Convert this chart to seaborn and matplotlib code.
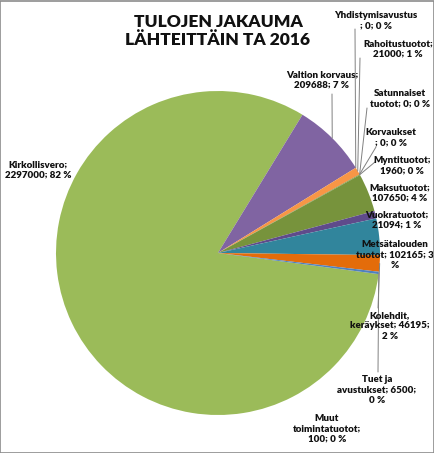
import textwrap
import matplotlib
matplotlib.use("Agg")
import matplotlib.pyplot as plt
import seaborn as sns
import numpy as np

# data (clockwise from Kirkollisvero)
categories = ["Kirkollisvero", "Valtion korvaus", "Yhdistymisavustus ", "Rahoitustuotot",
              "Satunnaiset tuotot", "Korvaukset ", "Myntituotot", "Maksutuotot",
              "Vuokratuotot", "Metsätalouden tuotot", "Kolehdit, keräykset",
              "Tuet ja avustukset", "Muut toimintatuotot"]
values = [2297000, 209688, 0, 21000, 0, 0, 1960, 107650, 21094, 102165, 46195, 6500, 100]
percents = [82, 7, 0, 1, 0, 0, 0, 4, 1, 3, 2, 0, 0]
title = "TULOJEN JAKAUMA\nLÄHTEITTÄIN TA 2016"

colors = ["#9BBB59", "#8064A2", "#4BACC6", "#F79646", "#4F81BD", "#C0504D", "#77933C",
          "#77933C", "#5F4B8B", "#31859C", "#E46C0A", "#4F81BD", "#C0504D"]

# layout (pixels, y down): label centre, wrap width, leader-line anchor (or None)
label_pos = [(38, 170), (322, 80), (376, 21), (398, 49), (400, 99), (391, 138),
             (402, 166), (400, 193), (397, 220), (395, 255), (390, 326), (377, 390),
             (327, 429)]
wrap_w = [15, 16, 17, 15, 14, 11, 12, 12, 13, 17, 17, 17, 15]
leader = [None, (332, 94), (355, 29), (360, 58), (367, 108), (376, 147), (375, 162),
          None, None, None, (378, 308), (378, 372), None]

W, H = 435, 453
cx, cy, r = 218, 253, 162

sns.set_theme(style="white")
plt.rcParams["font.family"] = ["Lato", "DejaVu Sans"]

fig = plt.figure(figsize=(W / 100, H / 100), dpi=100)
ax = fig.add_axes([0, 0, 1, 1])

pal = sns.color_palette(colors)
wedges, _ = ax.pie(values, colors=pal, startangle=-7.5, counterclock=False,
                   center=(cx, H - cy), radius=r, frame=True,
                   wedgeprops=dict(linewidth=0))
ax.set_xlim(0, W)
ax.set_ylim(0, H)
ax.set_aspect("equal")
ax.axis("off")

for i, w in enumerate(wedges):
    txt = textwrap.fill(f"{categories[i]}; {values[i]}; {percents[i]} %", wrap_w[i])
    lx, ly = label_pos[i]
    ax.text(lx, H - ly, txt, ha="center", va="center", fontsize=7,
            fontweight="heavy", color="#111111", linespacing=1.2)
    if leader[i] is not None:
        mid = np.deg2rad((w.theta1 + w.theta2) / 2)
        ex, ey = cx + r * np.cos(mid), (H - cy) + r * np.sin(mid)
        ax_, ay_ = leader[i]
        ax.plot([ax_, ex], [H - ay_, ey], color="#808080", lw=0.7, clip_on=False)

ax.text(218, H - 31, title, ha="center", va="center", fontsize=12.5,
        fontweight="heavy", color="#111111", linespacing=1.15)

# chart area border
fig.patches.append(plt.Rectangle((0.001, 0.001), 0.997, 0.997, transform=fig.transFigure,
                                 fill=False, edgecolor="#8c8c8c", lw=1.2))

fig.savefig("out.png", dpi=100)
